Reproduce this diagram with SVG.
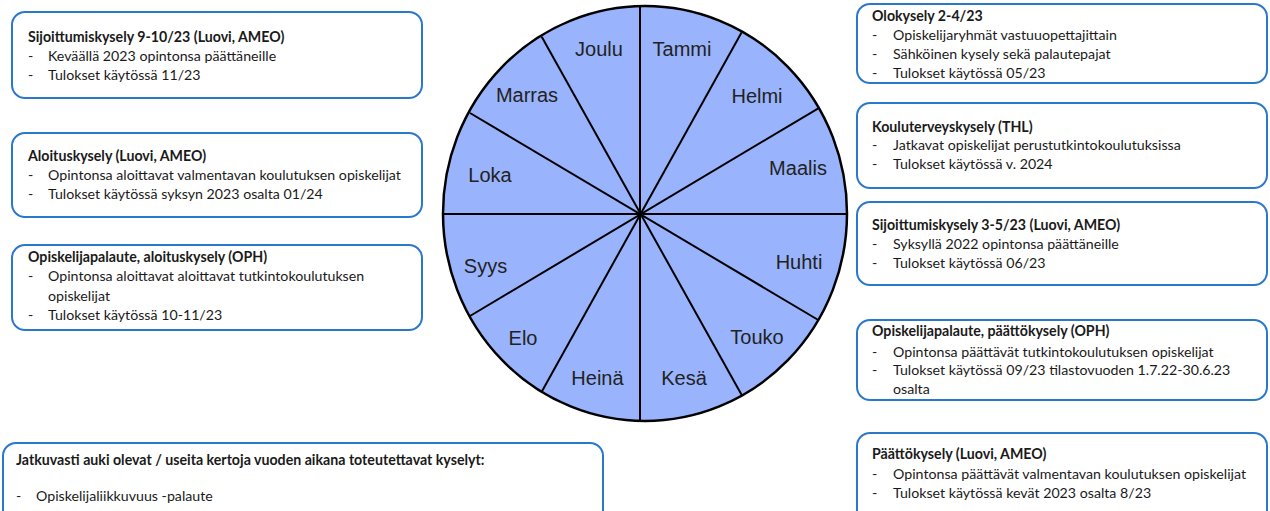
<svg xmlns="http://www.w3.org/2000/svg" width="1270" height="511" viewBox="0 0 1270 511">
<style>
.box{fill:#ffffff;stroke:#2a78cc;stroke-width:2}
.t{font-family:Lato,"Liberation Sans",sans-serif;font-size:14.2px;fill:#1a1a1a}
.b{font-weight:bold}
.m{font-family:"Liberation Sans",Arial,sans-serif;font-size:20px;fill:#222222;text-anchor:middle}
.sp{stroke:#000000;stroke-width:2;fill:none}
</style>
<rect width="1270" height="511" fill="#ffffff"/>
<g id="wheel">
<ellipse cx="645" cy="213.5" rx="202" ry="207.5" fill="#99b4fc" stroke="#000000" stroke-width="2.5"/>
</g>
<g id="connectors">
<line class="sp" x1="640" y1="6" x2="640" y2="421"/>
<line class="sp" x1="443" y1="214" x2="847" y2="214"/>
<line class="sp" x1="470" y1="113" x2="818.3" y2="320"/>
<line class="sp" x1="818.3" y1="108.3" x2="470" y2="316"/>
<line class="sp" x1="541.7" y1="36.7" x2="741.7" y2="395"/>
<line class="sp" x1="741.7" y1="32.3" x2="541.7" y2="391.7"/>
</g>
<g id="months">
<text class="m" x="599" y="56">Joulu</text>
<text class="m" x="682" y="56">Tammi</text>
<text class="m" x="527" y="102">Marras</text>
<text class="m" x="757" y="103">Helmi</text>
<text class="m" x="490" y="182">Loka</text>
<text class="m" x="798" y="175">Maalis</text>
<text class="m" x="485.5" y="273">Syys</text>
<text class="m" x="799" y="269">Huhti</text>
<text class="m" x="523" y="345">Elo</text>
<text class="m" x="757" y="344">Touko</text>
<text class="m" x="597.5" y="385">Heinä</text>
<text class="m" x="684" y="385">Kesä</text>
</g>
<g id="box-sijoittumis-syksy">
<rect class="box" x="12" y="12" width="410" height="86" rx="13"/>
<text class="t b" x="28" y="42">Sijoittumiskysely 9-10/23 (Luovi, AMEO)</text>
<text class="t" x="28" y="61">-</text><text class="t" x="48" y="61">Keväällä 2023 opintonsa päättäneille</text>
<text class="t" x="28" y="80">-</text><text class="t" x="48" y="80">Tulokset käytössä 11/23</text>
</g>
<g id="box-aloitus">
<rect class="box" x="12" y="133" width="410" height="84" rx="13"/>
<text class="t b" x="28" y="161">Aloituskysely (Luovi, AMEO)</text>
<text class="t" x="28" y="180">-</text><text class="t" x="48" y="180">Opintonsa aloittavat valmentavan koulutuksen opiskelijat</text>
<text class="t" x="28" y="199">-</text><text class="t" x="48" y="199">Tulokset käytössä syksyn 2023 osalta 01/24</text>
</g>
<g id="box-oph-aloitus">
<rect class="box" x="12" y="245" width="410" height="85" rx="13"/>
<text class="t b" x="28" y="262">Opiskelijapalaute, aloituskysely (OPH)</text>
<text class="t" x="28" y="281">-</text><text class="t" x="48" y="281">Opintonsa aloittavat aloittavat tutkintokoulutuksen</text>
<text class="t" x="48" y="301">opiskelijat</text>
<text class="t" x="28" y="320">-</text><text class="t" x="48" y="320">Tulokset käytössä 10-11/23</text>
</g>
<g id="box-jatkuvat">
<rect class="box" x="3" y="443" width="600" height="90" rx="13"/>
<text class="t b" x="16" y="465">Jatkuvasti auki olevat / useita kertoja vuoden aikana toteutettavat kyselyt:</text>
<text class="t" x="16" y="501">-</text><text class="t" x="36" y="501">Opiskelijaliikkuvuus -palaute</text>
</g>
<g id="box-olo">
<rect class="box" x="857" y="4" width="410" height="79" rx="13"/>
<text class="t b" x="872" y="21">Olokysely 2-4/23</text>
<text class="t" x="872" y="40">-</text><text class="t" x="893" y="40">Opiskelijaryhmät vastuuopettajittain</text>
<text class="t" x="872" y="59">-</text><text class="t" x="893" y="59">Sähköinen kysely sekä palautepajat</text>
<text class="t" x="872" y="78">-</text><text class="t" x="893" y="78">Tulokset käytössä 05/23</text>
</g>
<g id="box-kouluterveys">
<rect class="box" x="857" y="103" width="410" height="85" rx="13"/>
<text class="t b" x="872" y="132">Kouluterveyskysely (THL)</text>
<text class="t" x="872" y="150">-</text><text class="t" x="893" y="150">Jatkavat opiskelijat perustutkintokoulutuksissa</text>
<text class="t" x="872" y="169">-</text><text class="t" x="893" y="169">Tulokset käytössä v. 2024</text>
</g>
<g id="box-sijoittumis-kevat">
<rect class="box" x="857" y="202" width="410" height="83" rx="13"/>
<text class="t b" x="872" y="230">Sijoittumiskysely 3-5/23 (Luovi, AMEO)</text>
<text class="t" x="872" y="249">-</text><text class="t" x="893" y="249">Syksyllä 2022 opintonsa päättäneille</text>
<text class="t" x="872" y="268">-</text><text class="t" x="893" y="268">Tulokset käytössä 06/23</text>
</g>
<g id="box-oph-paatto">
<rect class="box" x="857" y="320" width="410" height="80" rx="13"/>
<text class="t b" x="872" y="336">Opiskelijapalaute, päättökysely (OPH)</text>
<text class="t" x="872" y="357">-</text><text class="t" x="893" y="357">Opintonsa päättävät tutkintokoulutuksen opiskelijat</text>
<text class="t" x="872" y="375">-</text><text class="t" x="893" y="375">Tulokset käytössä 09/23 tilastovuoden 1.7.22-30.6.23</text>
<text class="t" x="893" y="394">osalta</text>
</g>
<g id="box-paatto">
<rect class="box" x="857" y="433" width="410" height="90" rx="13"/>
<text class="t b" x="872" y="459">Päättökysely (Luovi, AMEO)</text>
<text class="t" x="872" y="479">-</text><text class="t" x="893" y="479">Opintonsa päättävät valmentavan koulutuksen opiskelijat</text>
<text class="t" x="872" y="498">-</text><text class="t" x="893" y="498">Tulokset käytössä kevät 2023 osalta 8/23</text>
</g>
</svg>
